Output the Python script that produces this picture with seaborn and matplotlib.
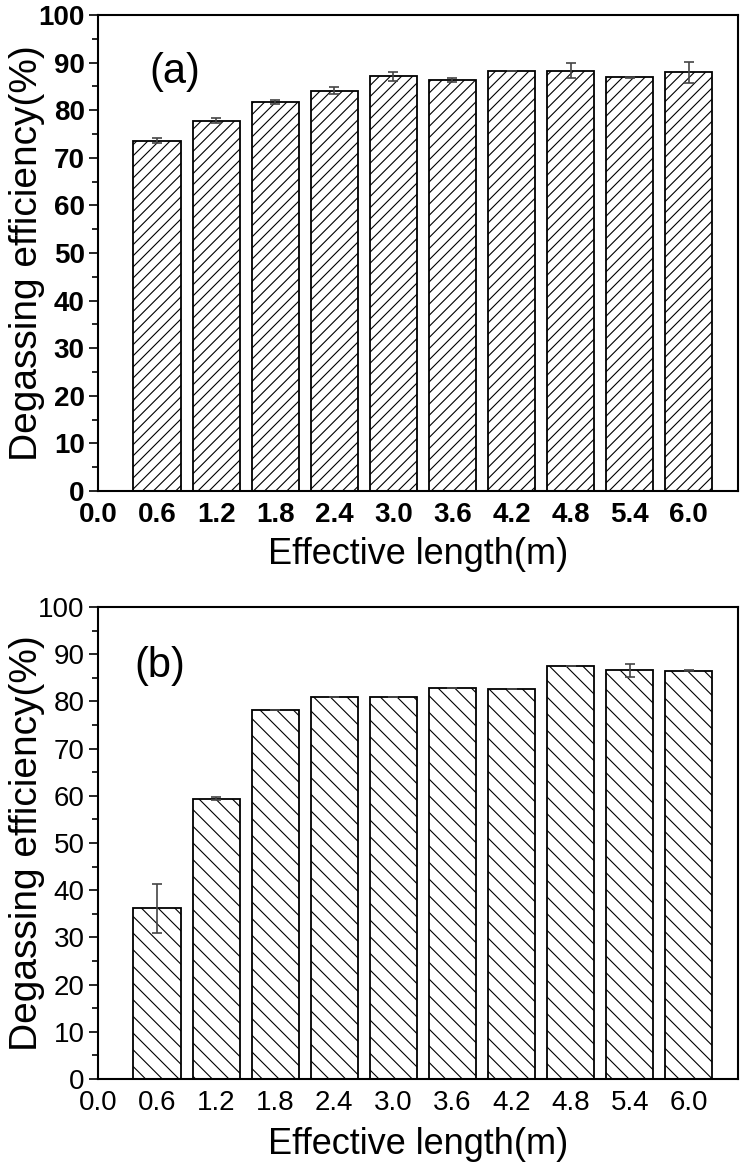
import numpy as np
import pandas as pd
import matplotlib
matplotlib.use("Agg")
import matplotlib.pyplot as plt
from matplotlib.ticker import MultipleLocator
import seaborn as sns

# data
lengths = [0.6, 1.2, 1.8, 2.4, 3.0, 3.6, 4.2, 4.8, 5.4, 6.0]
eff_a = [73.6, 77.8, 81.7, 84.1, 87.1, 86.4, 88.2, 88.3, 86.9, 88.0]
err_a = [0.45, 0.5, 0.4, 0.7, 1.0, 0.45, 0.05, 1.6, 0.1, 2.2]
eff_b = [36.2, 59.4, 78.2, 80.9, 81.0, 82.8, 82.6, 87.5, 86.6, 86.5]
err_b = [5.2, 0.4, 0.0, 0.0, 0.0, 0.0, 0.0, 0.0, 1.4, 0.1]
xticks = [0.0, 0.6, 1.2, 1.8, 2.4, 3.0, 3.6, 4.2, 4.8, 5.4, 6.0]

sns.set_style("ticks", {'axes.edgecolor': 'black', 'text.color': 'black',
                        'axes.labelcolor': 'black', 'xtick.color': 'black',
                        'ytick.color': 'black'})
plt.rcParams['font.family'] = ['Liberation Sans', 'DejaVu Sans']
plt.rcParams['hatch.linewidth'] = 0.8

fig = plt.figure(figsize=(7.42, 11.67), dpi=100)
ax1 = fig.add_axes([0.1321, 0.5793, 0.8625, 0.4079])
ax2 = fig.add_axes([0.1321, 0.0754, 0.8625, 0.4045])


def panel(ax, y, err, hatch, tag, bold, tagpos, ylab_x, xlab_y):
    df = pd.DataFrame({'len': lengths, 'eff': y})
    sns.barplot(data=df, x='len', y='eff', native_scale=True, width=0.8,
                color='white', edgecolor='black', linewidth=1.3,
                errorbar=None, ax=ax)
    for p in ax.patches:
        p.set_hatch(hatch)
        p.set_facecolor('white')
    ax.errorbar(lengths, y, yerr=err, fmt='none', ecolor='#444444',
                elinewidth=1.2, capsize=3.7, capthick=1.2)
    ax.set_xlim(0, 6.5)
    ax.set_ylim(0, 100)
    ax.set_xticks(xticks)
    ax.set_xticklabels([f"{v:.1f}" for v in xticks])
    ax.yaxis.set_major_locator(MultipleLocator(10))
    ax.yaxis.set_minor_locator(MultipleLocator(5))
    ax.tick_params(axis='x', direction='in', length=6.5, width=1.2, pad=8)
    ax.tick_params(axis='y', which='major', direction='out', length=6.5,
                   width=1.2, pad=3)
    ax.tick_params(axis='y', which='minor', direction='out', length=4.5, width=1.2)
    w = 'bold' if bold else 'normal'
    for lab in ax.get_xticklabels() + ax.get_yticklabels():
        lab.set_fontsize(20)
        lab.set_fontweight(w)
    for s in ax.spines.values():
        s.set_linewidth(1.5)
        s.set_visible(True)
    ax.set_xlabel('Effective length(m)', fontsize=26, va='top')
    ax.set_ylabel('Degassing efficiency(%)', fontsize=28)
    ax.yaxis.set_label_coords(ylab_x, 0.5)
    ax.xaxis.set_label_coords(0.5, xlab_y)
    ax.text(tagpos[0], tagpos[1], tag, transform=ax.transAxes, fontsize=30,
            ha='center', va='center')


panel(ax1, eff_a, err_a, '///', '(a)', True, (0.12, 0.88), -0.083, -0.097)
panel(ax2, eff_b, err_b, '\\\\', '(b)', False, (0.097, 0.874), -0.083, -0.102)

fig.savefig('out.png', dpi=100)
